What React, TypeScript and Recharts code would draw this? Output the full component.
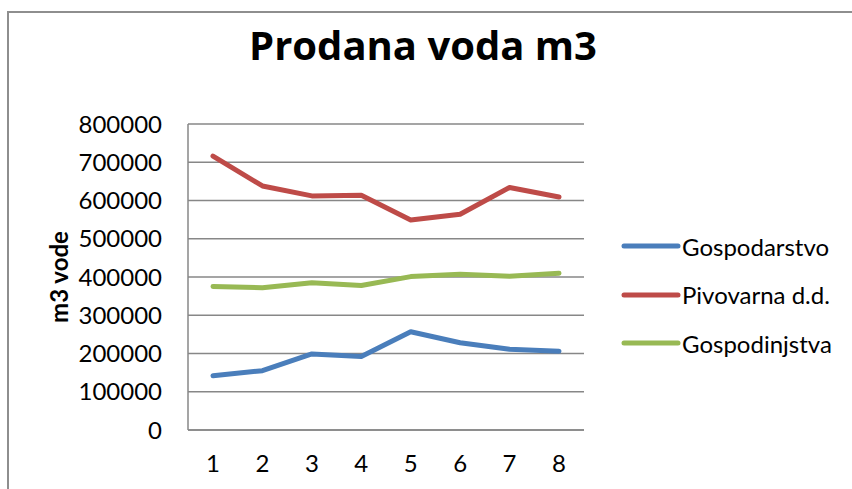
import { LineChart, Line, XAxis, YAxis, CartesianGrid } from 'recharts';

// values
const periods = [1, 2, 3, 4, 5, 6, 7, 8];
const gospodarstvo = [142000, 155000, 199000, 192000, 257000, 228000, 211000, 206000];
const pivovarna = [716000, 638000, 612000, 614000, 549000, 564000, 634000, 609000];
const gospodinjstva = [375000, 372000, 385000, 378000, 401000, 407000, 402000, 410000];
const yTicks = [0, 100000, 200000, 300000, 400000, 500000, 600000, 700000, 800000];

const seriesList = [
  { key: 'gospodarstvo', name: 'Gospodarstvo', color: '#4A7EBB' },
  { key: 'pivovarna', name: 'Pivovarna d.d.', color: '#BE4B48' },
  { key: 'gospodinjstva', name: 'Gospodinjstva', color: '#98B954' },
];

const data = periods.map((p, i) => ({
  period: p,
  gospodarstvo: gospodarstvo[i],
  pivovarna: pivovarna[i],
  gospodinjstva: gospodinjstva[i],
}));

const FONT = 'Lato, "Noto Sans", sans-serif';

function LegendBox() {
  return (
    <div style={{ position: 'absolute', left: 621, top: 222, width: 230, fontFamily: FONT }}>
      {seriesList.map((s) => (
        <div key={s.key} style={{ display: 'flex', alignItems: 'center', height: 48.5 }}>
          <svg width={60} height={10}>
            <line x1={3} y1={5} x2={57} y2={5} stroke={s.color} strokeWidth={5} strokeLinecap="round" />
          </svg>
          <span style={{ fontSize: 24, color: '#000', marginLeft: 1 }}>{s.name}</span>
        </div>
      ))}
    </div>
  );
}

function YLabel() {
  return (
    <text
      x={58}
      y={277}
      transform="rotate(-90, 58, 277)"
      textAnchor="middle"
      dominantBaseline="central"
      fontFamily={FONT}
      fontWeight="bold"
      fontSize={24}
      fill="#000"
    >
      m3 vode
    </text>
  );
}

export default function App() {
  return (
    <div style={{ position: 'absolute', left: 0, top: 0, width: 852, height: 489, background: '#fff', overflow: 'hidden' }}>
      {/* outer chart frame, runs off the right and bottom */}
      <div
        style={{
          position: 'absolute',
          left: 7,
          top: 11,
          width: 900,
          height: 520,
          border: '2px solid #8e8e8e',
          boxSizing: 'border-box',
        }}
      />
      <div
        style={{
          position: 'absolute',
          left: 0,
          top: 19,
          width: 852,
          textAlign: 'center',
          fontFamily: '"Open Sans", sans-serif',
          fontWeight: 'bold',
          fontSize: 40,
          lineHeight: '52px',
          paddingRight: 6,
          boxSizing: 'border-box',
          color: '#000',
        }}
      >
        Prodana voda m3
      </div>
      <div style={{ position: 'absolute', left: 0, top: 0 }}>
        <LineChart width={852} height={489} data={data} margin={{ top: 124, right: 268, bottom: 0, left: 88 }}>
          <CartesianGrid vertical={false} stroke="#878787" strokeWidth={1.5} />
          <XAxis
            dataKey="period"
            padding={{ left: 25, right: 25 }}
            axisLine={{ stroke: '#878787', strokeWidth: 1.5 }}
            tickLine={false}
            tickSize={0}
            tickMargin={25}
            tick={{ fontFamily: FONT, fontSize: 24, fill: '#000' }}
            interval={0}
            height={59}
          />
          <YAxis
            width={100}
            domain={[0, 800000]}
            ticks={yTicks}
            interval={0}
            axisLine={{ stroke: '#878787', strokeWidth: 1.5 }}
            tickLine={false}
            tickSize={0}
            tickMargin={26}
            tick={{ fontFamily: FONT, fontSize: 24, fill: '#000' }}
            label={{ content: () => <YLabel /> }}
          />
          {seriesList.map((s) => (
            <Line
              key={s.key}
              type="linear"
              dataKey={s.key}
              name={s.name}
              stroke={s.color}
              strokeWidth={5}
              strokeLinecap="round"
              strokeLinejoin="round"
              dot={false}
              activeDot={false}
              isAnimationActive={false}
            />
          ))}
        </LineChart>
      </div>
      <LegendBox />
    </div>
  );
}
